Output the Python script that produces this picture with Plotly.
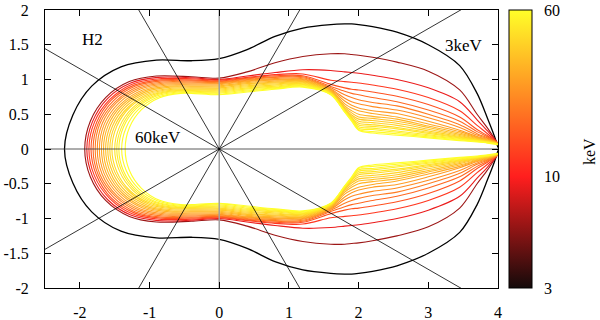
import math
import plotly.graph_objects as go

# ---------------- data ----------------
energies = [3, 6, 9, 12, 15, 18, 21, 24, 27, 30, 33, 36, 39, 42, 45, 48, 51, 54, 57, 60]

# left arc of the upper half of every contour: from the leftmost point (y=0) up to its top
arc_x = [
    [-2.22, -2.10, -1.83, -1.41, -0.90],
    [-1.93, -1.85, -1.63, -1.29, -0.90],
    [-1.90, -1.82, -1.60, -1.27, -0.88],
    [-1.87, -1.79, -1.57, -1.25, -0.86],
    [-1.84, -1.76, -1.55, -1.22, -0.84],
    [-1.81, -1.735, -1.52, -1.20, -0.82],
    [-1.78, -1.71, -1.49, -1.175, -0.80],
    [-1.75, -1.68, -1.47, -1.15, -0.78],
    [-1.72, -1.65, -1.44, -1.13, -0.76],
    [-1.69, -1.62, -1.41, -1.10, -0.74],
    [-1.66, -1.59, -1.385, -1.08, -0.72],
    [-1.63, -1.56, -1.36, -1.056, -0.70],
    [-1.60, -1.53, -1.33, -1.03, -0.68],
    [-1.57, -1.50, -1.30, -1.01, -0.66],
    [-1.54, -1.47, -1.28, -0.985, -0.64],
    [-1.50, -1.43, -1.24, -0.957, -0.62],
    [-1.47, -1.40, -1.215, -0.933, -0.60],
    [-1.44, -1.375, -1.19, -0.91, -0.58],
    [-1.40, -1.335, -1.155, -0.88, -0.56],
    [-1.35, -1.29, -1.116, -0.856, -0.55],
]
arc_y = [
    [0, 0.49, 0.905, 1.183, 1.28],
    [0, 0.40, 0.74, 0.97, 1.05],
    [0, 0.39, 0.73, 0.95, 1.03],
    [0, 0.387, 0.714, 0.933, 1.01],
    [0, 0.381, 0.703, 0.919, 0.995],
    [0, 0.375, 0.693, 0.906, 0.98],
    [0, 0.37, 0.682, 0.892, 0.965],
    [0, 0.364, 0.672, 0.878, 0.95],
    [0, 0.358, 0.661, 0.864, 0.935],
    [0, 0.352, 0.65, 0.85, 0.92],
    [0, 0.347, 0.64, 0.836, 0.905],
    [0, 0.341, 0.629, 0.822, 0.89],
    [0, 0.335, 0.619, 0.808, 0.875],
    [0, 0.329, 0.608, 0.795, 0.86],
    [0, 0.326, 0.601, 0.785, 0.85],
    [0, 0.322, 0.594, 0.776, 0.84],
    [0, 0.318, 0.587, 0.767, 0.83],
    [0, 0.314, 0.58, 0.758, 0.82],
    [0, 0.31, 0.573, 0.748, 0.81],
    [0, 0.306, 0.566, 0.739, 0.80],
]

# upper half of every contour at these x positions
station_x = [-0.4, 0.0, 0.4, 0.8, 1.2, 1.6, 1.8, 1.9, 2.0, 2.2, 2.55, 3.0, 3.45, 3.7, 3.85, 3.95, 4.0]
station_y = [
    [1.27, 1.30, 1.43, 1.62, 1.74, 1.79, 1.80, 1.80, 1.79, 1.76, 1.68, 1.50, 1.20, 0.80, 0.44, 0.18, 0.02],
    [1.04, 1.02, 1.11, 1.24, 1.33, 1.37, 1.37, 1.36, 1.35, 1.32, 1.25, 1.12, 0.85, 0.50, 0.30, 0.15, 0.07],
    [1.025, 1.00, 1.05, 1.10, 1.14, 1.13, 1.11, 1.10, 1.09, 1.06, 1.00, 0.88, 0.68, 0.42, 0.26, 0.14, 0.08],
    [1.01, 0.99, 1.03, 1.07, 1.08, 0.99, 0.97, 0.96, 0.95, 0.92, 0.86, 0.74, 0.55, 0.34, 0.22, 0.13, 0.08],
    [0.995, 0.98, 1.02, 1.055, 1.055, 0.93, 0.88, 0.86, 0.85, 0.82, 0.76, 0.64, 0.46, 0.28, 0.19, 0.12, 0.08],
    [0.98, 0.97, 1.01, 1.04, 1.04, 0.90, 0.83, 0.80, 0.78, 0.74, 0.68, 0.56, 0.40, 0.25, 0.175, 0.12, 0.08],
    [0.965, 0.96, 1.00, 1.03, 1.025, 0.88, 0.78, 0.74, 0.71, 0.67, 0.62, 0.50, 0.35, 0.22, 0.16, 0.115, 0.08],
    [0.95, 0.95, 0.99, 1.015, 1.01, 0.865, 0.73, 0.68, 0.65, 0.61, 0.56, 0.45, 0.31, 0.20, 0.15, 0.11, 0.08],
    [0.935, 0.94, 0.98, 1.00, 1.00, 0.855, 0.69, 0.63, 0.59, 0.55, 0.51, 0.40, 0.27, 0.18, 0.14, 0.105, 0.08],
    [0.92, 0.925, 0.97, 0.99, 0.99, 0.845, 0.65, 0.59, 0.55, 0.51, 0.46, 0.36, 0.25, 0.17, 0.13, 0.10, 0.075],
    [0.905, 0.91, 0.955, 0.975, 0.98, 0.835, 0.62, 0.55, 0.50, 0.47, 0.43, 0.33, 0.23, 0.16, 0.125, 0.10, 0.075],
    [0.89, 0.895, 0.94, 0.96, 0.97, 0.825, 0.60, 0.52, 0.46, 0.44, 0.40, 0.31, 0.21, 0.15, 0.12, 0.095, 0.075],
    [0.875, 0.88, 0.925, 0.95, 0.96, 0.815, 0.585, 0.49, 0.43, 0.41, 0.37, 0.285, 0.195, 0.14, 0.115, 0.09, 0.07],
    [0.86, 0.865, 0.91, 0.935, 0.95, 0.81, 0.57, 0.47, 0.40, 0.38, 0.34, 0.26, 0.18, 0.135, 0.11, 0.09, 0.07],
    [0.85, 0.85, 0.895, 0.92, 0.94, 0.805, 0.56, 0.45, 0.37, 0.35, 0.31, 0.24, 0.17, 0.13, 0.105, 0.085, 0.07],
    [0.84, 0.835, 0.88, 0.905, 0.93, 0.80, 0.55, 0.44, 0.345, 0.325, 0.29, 0.225, 0.16, 0.125, 0.10, 0.085, 0.07],
    [0.83, 0.82, 0.865, 0.89, 0.92, 0.795, 0.545, 0.43, 0.32, 0.30, 0.26, 0.205, 0.15, 0.12, 0.10, 0.08, 0.065],
    [0.82, 0.805, 0.85, 0.88, 0.91, 0.79, 0.54, 0.42, 0.30, 0.28, 0.24, 0.19, 0.14, 0.115, 0.095, 0.08, 0.065],
    [0.81, 0.79, 0.835, 0.87, 0.90, 0.785, 0.535, 0.41, 0.28, 0.25, 0.22, 0.175, 0.13, 0.11, 0.09, 0.075, 0.06],
    [0.80, 0.78, 0.82, 0.86, 0.89, 0.78, 0.53, 0.40, 0.27, 0.23, 0.20, 0.16, 0.12, 0.10, 0.085, 0.07, 0.06],
]

ray_angles_deg = [0, 30, 60, 120, 150]
x_ticks = [-2, -1, 0, 1, 2, 3, 4]
y_ticks = [-2, -1.5, -1, -0.5, 0, 0.5, 1, 1.5, 2]
cb_ticks = [3, 10, 60]
cb_minor = [4, 5, 6, 7, 8, 9, 20, 30, 40, 50]
E_MIN, E_MAX = 3, 60

# ---------------- style ----------------
FONT = "Liberation Serif"
TICK_SIZE = 16
LABEL_SIZE = 17
stops = [(0.0, (20, 10, 10)), (0.4, (255, 30, 30)), (1.0, (255, 255, 40))]


def palette(f):
    f = min(max(f, 0.0), 1.0)
    for (f0, c0), (f1, c1) in zip(stops[:-1], stops[1:]):
        if f <= f1:
            t = (f - f0) / (f1 - f0)
            return "rgb(%d,%d,%d)" % tuple(round(a + (b - a) * t) for a, b in zip(c0, c1))
    return "rgb(%d,%d,%d)" % stops[-1][1]


def frac(e):
    return math.log10(e / E_MIN) / math.log10(E_MAX / E_MIN)


fig = go.Figure()

# contours
for i, e in enumerate(energies):
    ux = list(arc_x[i]) + list(station_x)
    uy = list(arc_y[i]) + list(station_y[i])
    xs = ux[::-1] + ux[1:]
    ys = uy[::-1] + [-v for v in uy[1:]]
    col = "black" if i == 0 else palette(frac(e))
    fig.add_trace(go.Scatter(
        x=xs, y=ys, mode="lines",
        line=dict(color=col, width=1.3 if i == 0 else 1.1, shape="spline", smoothing=0.9),
        showlegend=False, hoverinfo="skip"))

# zero axis (grey)
fig.add_trace(go.Scatter(x=[0, 0], y=[-3, 3], mode="lines",
                         line=dict(color="#a0a0a0", width=1.5), showlegend=False, hoverinfo="skip"))

# radial lines through the origin
L = 10
for a in ray_angles_deg:
    c, s = math.cos(math.radians(a)), math.sin(math.radians(a))
    fig.add_trace(go.Scatter(x=[-L * c, L * c], y=[-L * s, L * s], mode="lines",
                             line=dict(color="#303030" if a == 0 else "black", width=0.8),
                             showlegend=False, hoverinfo="skip"))

plot_l, plot_r, plot_t, plot_b = 45, 498, 10, 288
pw = plot_r - plot_l
ph = plot_b - plot_t
cb_left, cb_w = 509, 23

# colour bar (log keV scale)
lmin, lmax = math.log10(E_MIN), math.log10(E_MAX)
fig.add_trace(go.Scatter(
    x=[100], y=[100], mode="markers",
    marker=dict(size=1, color=[lmin], cmin=lmin, cmax=lmax,
                colorscale=[[f, "rgb(%d,%d,%d)" % c] for f, c in stops],
                showscale=True,
                colorbar=dict(
                    x=(cb_left - plot_l) / pw, xanchor="left", xpad=0,
                    y=0.5, yanchor="middle", ypad=0, len=1, lenmode="fraction",
                    thickness=cb_w, thicknessmode="pixels",
                    outlinewidth=1, outlinecolor="black",
                    tickmode="array", tickvals=[], showticklabels=False, ticks="")),
    showlegend=False, hoverinfo="skip"))

shapes = []
xr = (cb_left + cb_w - plot_l) / pw
xl = (cb_left - plot_l) / pw
for v in cb_minor + [10]:
    yy = (math.log10(v) - lmin) / (lmax - lmin)
    shapes.append(dict(type="line", xref="paper", yref="paper",
                       x0=xr - 5 / pw, x1=xr, y0=yy, y1=yy, line=dict(color="black", width=1)))
    if v == 10:
        shapes.append(dict(type="line", xref="paper", yref="paper",
                           x0=xl, x1=xl + 5 / pw, y0=yy, y1=yy, line=dict(color="black", width=1)))

annotations = [
    dict(x=-2.0, y=1.57, text="H2", showarrow=False, xanchor="left",
         font=dict(family=FONT, size=LABEL_SIZE, color="black")),
    dict(x=-0.52, y=0.16, text="60keV", showarrow=False, xanchor="right",
         font=dict(family=FONT, size=LABEL_SIZE, color="black")),
    dict(x=3.82, y=1.485, text="3keV", showarrow=False, xanchor="right",
         font=dict(family=FONT, size=LABEL_SIZE, color="black")),
    dict(xref="paper", yref="paper", x=(590 - plot_l) / pw, y=(plot_b - 152) / ph,
         xanchor="center", yanchor="middle",
         text="keV", showarrow=False, textangle=-90,
         font=dict(family=FONT, size=TICK_SIZE, color="black")),
]
for v in cb_ticks:
    yy = (math.log10(v) - lmin) / (lmax - lmin)
    annotations.append(dict(xref="paper", yref="paper", x=(542 - plot_l) / pw, y=yy,
                            xanchor="left", yanchor="middle", text=str(v), showarrow=False,
                            font=dict(family=FONT, size=TICK_SIZE, color="black")))

axis_common = dict(showline=True, linecolor="black", linewidth=1, mirror="ticks",
                   ticks="inside", ticklen=6, tickcolor="black", showgrid=False, zeroline=False,
                   tickfont=dict(family=FONT, size=TICK_SIZE, color="black"), tickmode="array",
                   automargin=False)

fig.update_layout(
    template="none",
    width=600, height=320,
    margin=dict(l=plot_l, r=600 - plot_r, t=plot_t, b=320 - plot_b, pad=0),
    paper_bgcolor="white", plot_bgcolor="white",
    xaxis=dict(range=[-2.5, 4], tickvals=x_ticks, ticktext=["%g" % v for v in x_ticks],
               ticklabelstandoff=10, **axis_common),
    yaxis=dict(range=[-2, 2], tickvals=y_ticks, ticktext=["%g" % v for v in y_ticks],
               ticklabelstandoff=12, **axis_common),
    shapes=shapes,
    annotations=annotations,
)

# the page's default 8px body margin would shift the figure; remove it
fig.write_html("out.html", config={"displayModeBar": False},
               post_script="document.body.style.margin='0';document.body.style.overflow='hidden';")
